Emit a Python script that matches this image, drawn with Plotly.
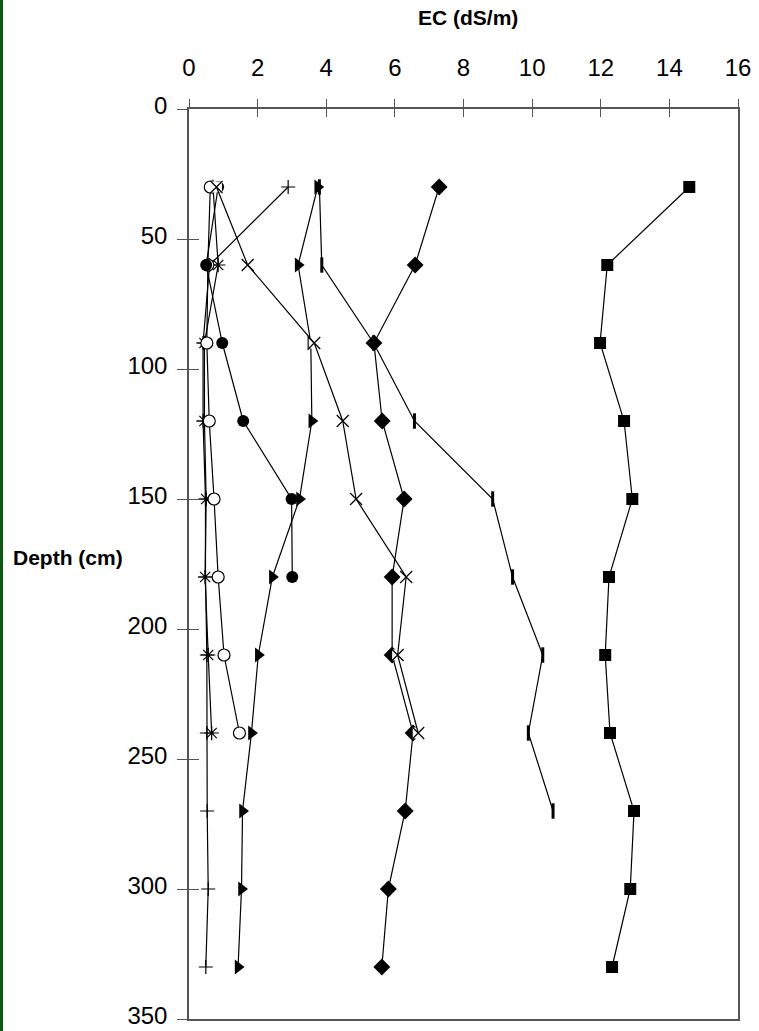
import plotly.graph_objects as go

depth = [30, 60, 90, 120, 150, 180, 210, 240, 270, 300, 330]

square_ec = [14.58, 12.19, 11.98, 12.68, 12.92, 12.24, 12.13, 12.27, 12.97, 12.86, 12.33]
diamond_ec = [7.29, 6.59, 5.39, 5.63, 6.27, 5.92, 5.92, 6.53, 6.30, 5.81, 5.62]
bar_ec = [3.80, 3.87, 5.38, 6.57, 8.85, 9.43, 10.31, 9.89, 10.61]
triangle_ec = [3.75, 3.18, 3.55, 3.58, 3.22, 2.43, 2.02, 1.82, 1.56, 1.53, 1.43]
x_ec = [0.80, 1.71, 3.65, 4.48, 4.87, 6.33, 6.08, 6.68]
open_circle_ec = [0.62, 0.55, 0.52, 0.59, 0.73, 0.85, 1.02, 1.47]
filled_circle_ec = [0.85, 0.50, 0.97, 1.58, 2.99, 3.01]
asterisk_ec = [0.70, 0.85, 0.45, 0.45, 0.50, 0.47, 0.56, 0.66]
plus_ec = [2.89, 0.60, 0.41, 0.41, 0.48, 0.48, 0.52, 0.52, 0.53, 0.56, 0.49]

x_ticks = [0, 2, 4, 6, 8, 10, 12, 14, 16]
y_ticks = [0, 50, 100, 150, 200, 250, 300, 350]

FONT = "Liberation Sans, Arial, sans-serif"
LINE = dict(color="black", width=1.2)

fig = go.Figure()


def add_series(xv, symbol, size, fill="black", mline=0, mcolor="black"):
    fig.add_trace(go.Scatter(
        x=xv, y=depth[:len(xv)], mode="lines+markers",
        line=LINE,
        marker=dict(symbol=symbol, size=size, color=fill,
                    line=dict(color=mcolor, width=mline)),
        showlegend=False, hoverinfo="x+y"))


add_series(plus_ec, "cross-thin", 10, mline=1.2)
add_series(asterisk_ec, "asterisk-open", 12, mline=1.2)
add_series(open_circle_ec, "circle", 12, fill="white", mline=1.2)
add_series(filled_circle_ec, "circle", 12)
add_series(triangle_ec, "triangle-right", 13)
add_series(diamond_ec, "diamond", 13)
add_series(bar_ec, "line-ns", 11, mline=3)
# x-marker series: white backing under each cross, as in the reference
fig.add_trace(go.Scatter(x=x_ec, y=depth[:len(x_ec)], mode="markers",
                         marker=dict(symbol="square", size=11, color="white"),
                         showlegend=False, hoverinfo="skip"))
add_series(x_ec, "x-thin-open", 12, mline=1.2, mcolor="#222")
add_series(square_ec, "square", 12)

# overlay axes for the inside half of the crossing tick marks
fig.add_trace(go.Scatter(x=[None], y=[None], xaxis="x2", yaxis="y2",
                         showlegend=False, hoverinfo="skip"))

axcol = "#555555"
tickfont = dict(family=FONT, size=24, color="black")

fig.update_layout(
    width=759, height=1031,
    margin=dict(l=189, r=21, t=109, b=12, autoexpand=False),
    paper_bgcolor="white", plot_bgcolor="white",
    xaxis=dict(range=[0, 16], side="top", tickvals=x_ticks, automargin=False,
               ticks="outside", ticklen=8, tickwidth=1.3, tickcolor=axcol,
               ticklabelstandoff=14, ticklabeloverflow="allow",
               showline=True, linecolor=axcol, linewidth=1.5, mirror=True,
               showgrid=False, zeroline=False, tickfont=tickfont),
    yaxis=dict(range=[350, 0], tickvals=y_ticks, automargin=False,
               ticks="outside", ticklen=10, tickwidth=1.3, tickcolor=axcol,
               ticklabelstandoff=5, ticklabeloverflow="allow",
               ticklabelshift=3,
               showline=True, linecolor=axcol, linewidth=1.5, mirror=True,
               showgrid=False, zeroline=False, tickfont=tickfont),
    xaxis2=dict(range=[0, 16], overlaying="x", side="top", tickvals=x_ticks,
                automargin=False,
                ticks="inside", ticklen=8, tickwidth=1.3, tickcolor=axcol,
                showticklabels=False, showline=False, showgrid=False,
                zeroline=False),
    yaxis2=dict(range=[350, 0], overlaying="y", side="left", tickvals=y_ticks,
                automargin=False,
                ticks="inside", ticklen=10, tickwidth=1.3, tickcolor=axcol,
                showticklabels=False, showline=False, showgrid=False,
                zeroline=False),
    annotations=[
        dict(text="<b>EC (dS/m)</b>", xref="paper", yref="paper",
             x=(468 - 189) / 549, y=1 + (109 - 18) / 910,
             showarrow=False, font=dict(family=FONT, size=21, color="black"),
             xanchor="center", yanchor="middle"),
        dict(text="<b>Depth (cm)</b>", xref="paper", yref="paper",
             x=(68 - 189) / 549, y=1 - (557 - 109) / 910,
             showarrow=False, font=dict(family=FONT, size=21, color="black"),
             xanchor="center", yanchor="middle"),
    ],
    shapes=[
        dict(type="rect", xref="paper", yref="paper",
             x0=-189 / 549, x1=-186 / 549, y0=-12 / 910, y1=1 + 109 / 910,
             fillcolor="#0b5a12", line=dict(width=0), layer="above"),
    ],
)

fig.write_html("out.html",
               config={"displayModeBar": False},
               post_script="document.body.style.margin='0';"
                           "document.body.style.overflow='hidden';")
